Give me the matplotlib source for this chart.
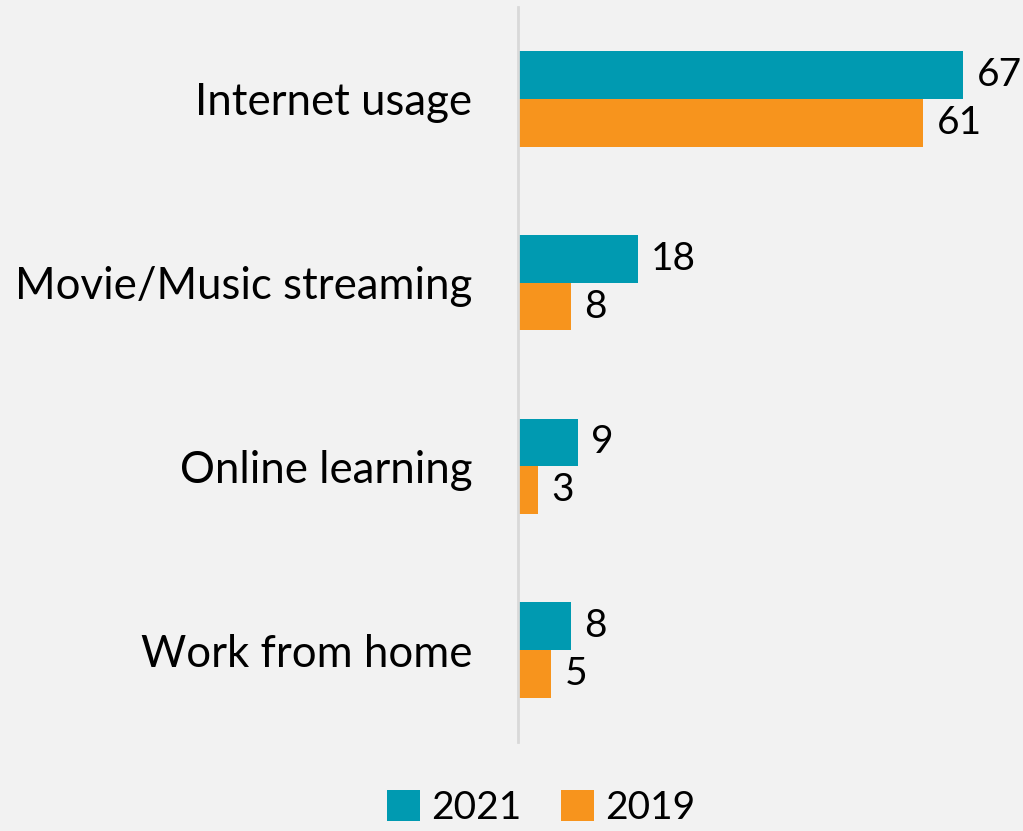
import matplotlib.pyplot as plt
import numpy as np

categories = ["Internet usage", "Movie/Music streaming", "Online learning", "Work from home"]
values_2021 = [67, 18, 9, 8]
values_2019 = [61, 8, 3, 5]
series_names = ["2021", "2019"]

TEAL = "#009ab1"
ORANGE = "#f7941d"
BG = "#f2f2f2"

plt.rcParams['font.family'] = ['Lato', 'DejaVu Sans']

fig = plt.figure(figsize=(10.23, 8.31), dpi=100, facecolor=BG)
ax = fig.add_axes([518 / 1023, 1 - 742 / 831, 1 - 518 / 1023, 735 / 831])
ax.set_facecolor(BG)

y = np.arange(len(categories))
h = 0.26
b1 = ax.barh(y - h / 2, values_2021, height=h, color=TEAL, label=series_names[0])
b2 = ax.barh(y + h / 2, values_2019, height=h, color=ORANGE, label=series_names[1])

for bars, vals in ((b1, values_2021), (b2, values_2019)):
    for bar, v in zip(bars, vals):
        ax.text(v + 2.0, bar.get_y() + bar.get_height() / 2, str(v),
                va="center", ha="left", fontsize=28, color="black", clip_on=False)

ax.set_xlim(0, 76)
ax.set_ylim(3.5, -0.5)
ax.set_yticks(y)
ax.set_yticklabels(categories, fontsize=31.5)
ax.tick_params(axis="y", length=0, pad=33)
ax.set_xticks([])
for side in ("top", "right", "bottom"):
    ax.spines[side].set_visible(False)
ax.spines["left"].set_color("#d9d9d9")
ax.spines["left"].set_linewidth(2)

fig.legend(handles=[b1, b2], loc="center", bbox_to_anchor=(541 / 1023, 1 - 808 / 831),
           ncol=2, frameon=False, fontsize=28, handlelength=0.85, handleheight=0.85,
           handletextpad=0.3, columnspacing=1.0)

fig.savefig("out.png", dpi=100, facecolor=BG)
